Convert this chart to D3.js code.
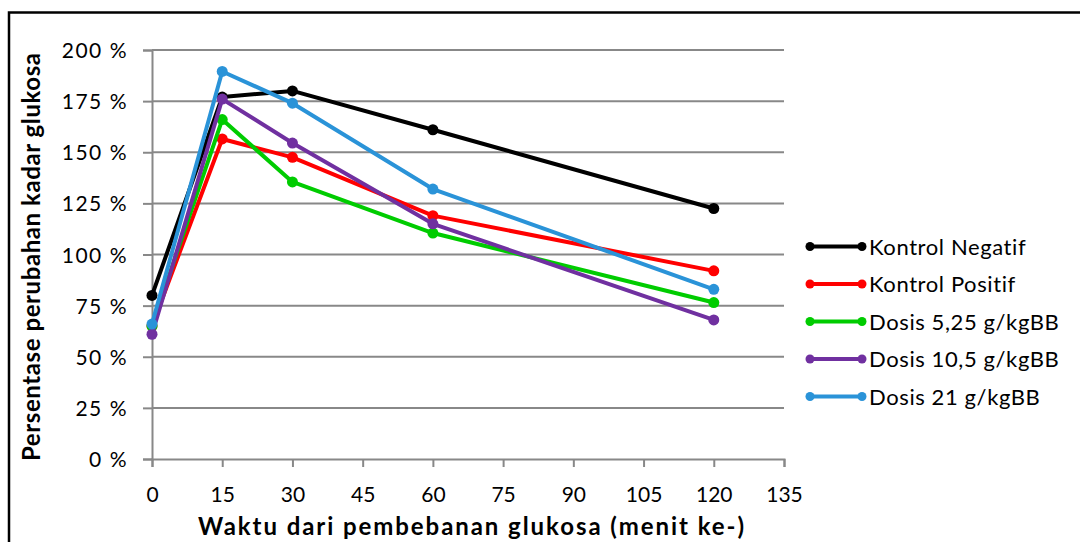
<!DOCTYPE html>
<html><head><meta charset="utf-8">
<script src="https://cdn.jsdelivr.net/npm/d3@7"></script>
<style>body{margin:0;background:#fff}svg{display:block}</style>
</head><body>
<svg id="c" width="1080" height="542"></svg>
<script>
const times = [0, 15, 30, 60, 120];
const seriesNames = ["Kontrol Negatif", "Kontrol Positif", "Dosis 5,25 g/kgBB", "Dosis 10,5 g/kgBB", "Dosis 21 g/kgBB"];
const kontrolNegatif = [80, 177, 180, 161, 122.5];
const kontrolPositif = [65, 156.5, 147.5, 119, 92];
const dosis525 = [65, 166, 135.5, 110.5, 76.5];
const dosis105 = [61, 176, 154.5, 115, 68];
const dosis21 = [66, 189.5, 174, 132, 83];
const colors = ["#000000", "#ff0000", "#00cc00", "#7030a0", "#2a93d8"];
const xTicks = [0, 15, 30, 45, 60, 75, 90, 105, 120, 135];
const yTicks = [0, 25, 50, 75, 100, 125, 150, 175, 200];

const allSeries = [kontrolNegatif, kontrolPositif, dosis525, dosis105, dosis21];
const font = "Lato, 'Open Sans', sans-serif";
const svg = d3.select("#c");

svg.append("rect").attr("x", 9).attr("y", 12.5).attr("width", 1100).attr("height", 600)
  .attr("fill", "none").attr("stroke", "#000").attr("stroke-width", 2.5);

const x = d3.scaleLinear().domain([0, 135]).range([152, 784]);
const y = d3.scaleLinear().domain([0, 200]).range([459, 50]);

// gridlines
svg.append("g").selectAll("line").data(yTicks.filter(d => d > 0)).join("line")
  .attr("x1", x(0)).attr("x2", x(135)).attr("y1", d => y(d)).attr("y2", d => y(d))
  .attr("stroke", "#888888").attr("stroke-width", 2);

// y axis
const yAxis = svg.append("g").attr("transform", `translate(${x(0)},0)`)
  .call(d3.axisLeft(y).tickValues(yTicks).tickSize(9).tickPadding(15).tickFormat(d => d + " %"));
yAxis.select(".domain").attr("stroke", "#888888").attr("stroke-width", 2);
yAxis.selectAll(".tick line").attr("stroke", "#888888").attr("stroke-width", 2);
yAxis.selectAll("text").attr("font-family", font).attr("font-size", 21).attr("fill", "#000")
  .attr("letter-spacing", 1.5).attr("dy", "0.36em");

// x axis
const xAxis = svg.append("g").attr("transform", `translate(0,${y(0)})`)
  .call(d3.axisBottom(x).tickValues(xTicks).tickSize(8).tickPadding(20));
xAxis.select(".domain").attr("stroke", "#888888").attr("stroke-width", 2);
xAxis.selectAll(".tick line").attr("stroke", "#888888").attr("stroke-width", 2);
xAxis.selectAll("text").attr("font-family", font).attr("font-size", 21).attr("fill", "#000");

// axis titles
svg.append("text").attr("x", 471).attr("y", 535).attr("text-anchor", "middle")
  .attr("font-family", font).attr("font-weight", "bold").attr("font-size", 24)
  .attr("textLength", 546).attr("lengthAdjust", "spacing")
  .text("Waktu dari pembebanan glukosa (menit ke-)");
svg.append("text").attr("transform", "translate(40,257) rotate(-90)").attr("text-anchor", "middle")
  .attr("font-family", font).attr("font-weight", "bold").attr("font-size", 24)
  .attr("textLength", 408).attr("lengthAdjust", "spacing")
  .text("Persentase perubahan kadar glukosa");

// lines
const line = d3.line().x((d, i) => x(times[i])).y(d => y(d));
allSeries.forEach((s, k) => {
  const g = svg.append("g");
  g.append("path").datum(s).attr("d", line).attr("fill", "none")
    .attr("stroke", colors[k]).attr("stroke-width", 4).attr("stroke-linejoin", "round");
  g.selectAll("circle").data(s).join("circle")
    .attr("cx", (d, i) => x(times[i])).attr("cy", d => y(d)).attr("r", 5.5).attr("fill", colors[k]);
});

// legend
const lg = svg.append("g");
seriesNames.forEach((n, k) => {
  const yy = 246.5 + k * 37.5;
  lg.append("line").attr("x1", 810).attr("x2", 862).attr("y1", yy).attr("y2", yy)
    .attr("stroke", colors[k]).attr("stroke-width", 4);
  lg.append("circle").attr("cx", 810).attr("cy", yy).attr("r", 4.5).attr("fill", colors[k]);
  lg.append("circle").attr("cx", 862).attr("cy", yy).attr("r", 4.5).attr("fill", colors[k]);
  lg.append("text").attr("x", 869).attr("y", yy + 8).attr("font-family", font).attr("font-size", 22)
    .attr("letter-spacing", 0.6).text(n);
});
</script>
</body></html>
